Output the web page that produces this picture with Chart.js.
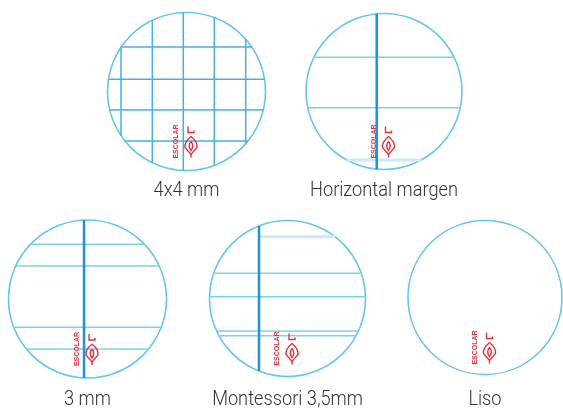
<!DOCTYPE html>
<html>
<head>
<meta charset="utf-8">
<script src="https://cdn.jsdelivr.net/npm/chart.js@4.4.0/dist/chart.umd.min.js"></script>
<style>
  html, body { margin: 0; padding: 0; background: #fff; }
  canvas { display: block; }
</style>
</head>
<body>
<canvas id="paperChart" width="563" height="408"></canvas>
<script>
// Ruling patterns (offsets in px from the circle centre)
const patternNames = ['4x4 mm', 'Horizontal margen', '3 mm', 'Montessori 3,5mm', 'Liso'];
const gridCols = [-65.5, -34.2, -3.2, 27.8, 59.2];   // only 4x4
const gridRows = [-44.5, -12.2, 18.5, 49.5];          // only 4x4
const marginLines = [null, -7.3, -3.5, -28.5, null];
const ruleLines = [[], [-34.2, 16.2], [-54.7, -33, 28.3, 50], [-25.2, -1.8, 32.5, 37.2], []];
const faintLines = [[], [68.5], [], [-61.8], []];

// where each circle sits on the page
const layout = [
  { cx: 186.5, cy: 91.5, r: 79, labelY: 196 },
  { cx: 384, cy: 91.5, r: 78, labelY: 196 },
  { cx: 87.5, cy: 299, r: 79, labelY: 405 },
  { cx: 287.5, cy: 298.5, r: 78, labelY: 405 },
  { cx: 485, cy: 297.5, r: 77, labelY: 405 }
];

const circleColor = '#66c5ee';
const gridColor = '#4aaee6';
const marginColor = '#1d93dc';
const ruleColor = '#80cfee';
const faintColor = '#cfeaf6';
const logoRed = '#e2323f';
const labelFont = '300 21px Roboto, "Open Sans", sans-serif';

// half width of the chord at offset d
function halfChord(r, d) {
  return Math.sqrt(Math.max(r * r - d * d, 0));
}

function lineDataset(points, color, width) {
  return {
    type: 'scatter',
    data: points,
    showLine: true,
    borderColor: color,
    borderWidth: width,
    pointRadius: 0,
    clip: false,
    order: 1
  };
}

const datasets = [];

layout.forEach((c, i) => {
  if (i === 0) {
    gridCols.forEach(dx => {
      const h = halfChord(c.r, dx);
      datasets.push(lineDataset([{ x: c.cx + dx, y: c.cy - h }, { x: c.cx + dx, y: c.cy + h }], gridColor, 1.5));
    });
    gridRows.forEach(dy => {
      const h = halfChord(c.r, dy);
      datasets.push(lineDataset([{ x: c.cx - h, y: c.cy + dy }, { x: c.cx + h, y: c.cy + dy }], gridColor, 1.5));
    });
  }
  ruleLines[i].forEach(dy => {
    const h = halfChord(c.r, dy);
    datasets.push(lineDataset([{ x: c.cx - h, y: c.cy + dy }, { x: c.cx + h, y: c.cy + dy }], ruleColor, 1.5));
  });
  faintLines[i].forEach(dy => {
    const h = halfChord(c.r, dy);
    // Montessori top band starts at the margin
    const startX = marginLines[i] !== null && dy < 0 ? c.cx + marginLines[i] : c.cx - h;
    datasets.push(lineDataset([{ x: startX, y: c.cy + dy }, { x: c.cx + h, y: c.cy + dy }], faintColor, 3));
  });
  if (marginLines[i] !== null) {
    const dx = marginLines[i];
    const h = halfChord(c.r, dx);
    const ds = lineDataset([{ x: c.cx + dx, y: c.cy - h }, { x: c.cx + dx, y: c.cy + h }], marginColor, 2.5);
    ds.order = 0;
    datasets.push(ds);
  }
});

// circle outlines
datasets.push({
  type: 'scatter',
  data: layout.map(c => ({ x: c.cx, y: c.cy })),
  pointRadius: layout.map(c => c.r),
  pointBorderColor: circleColor,
  pointBackgroundColor: 'rgba(0,0,0,0)',
  pointBorderWidth: 1.6,
  clip: false,
  order: 2
});

// small red logo and the captions
const paperDecor = {
  id: 'paperDecor',
  afterDatasetsDraw(chart) {
    const { ctx, scales: { x, y } } = chart;

    // squeeze the caption font so it looks condensed like the original
    ctx.save();
    ctx.font = labelFont;
    const squeeze = 148 / ctx.measureText('Horizontal margen').width;
    ctx.restore();

    layout.forEach((c, i) => {
      const px = x.getPixelForValue(c.cx);
      const py = y.getPixelForValue(c.cy);

      ctx.save();
      ctx.fillStyle = logoRed;
      ctx.strokeStyle = logoRed;
      ctx.lineWidth = 1.4;

      // vertical brand text
      ctx.save();
      ctx.translate(px - 10, py + 50);
      ctx.rotate(-Math.PI / 2);
      ctx.font = 'bold 7px "Liberation Sans", sans-serif';
      ctx.textAlign = 'center';
      ctx.textBaseline = 'middle';
      ctx.fillText('ESCOLAR', 0, 0);
      ctx.restore();

      // hook
      const lx = px + 4.5;
      ctx.beginPath();
      ctx.moveTo(lx - 3, py + 35);
      ctx.lineTo(lx - 3, py + 41);
      ctx.lineTo(lx + 3, py + 41);
      ctx.lineTo(lx + 3, py + 39);
      ctx.stroke();

      // leaf
      ctx.beginPath();
      ctx.moveTo(lx, py + 45);
      ctx.quadraticCurveTo(lx + 7, py + 51, lx + 6, py + 56);
      ctx.lineTo(lx, py + 63);
      ctx.lineTo(lx - 6, py + 56);
      ctx.quadraticCurveTo(lx - 7, py + 51, lx, py + 45);
      ctx.stroke();
      ctx.beginPath();
      ctx.moveTo(lx, py + 50);
      ctx.quadraticCurveTo(lx + 3.5, py + 54, lx, py + 59);
      ctx.quadraticCurveTo(lx - 3.5, py + 54, lx, py + 50);
      ctx.stroke();
      ctx.beginPath();
      ctx.moveTo(lx, py + 63);
      ctx.lineTo(lx, py + 66);
      ctx.stroke();
      ctx.restore();

      // caption
      ctx.save();
      ctx.fillStyle = '#333333';
      ctx.font = labelFont;
      ctx.textAlign = 'center';
      ctx.textBaseline = 'alphabetic';
      ctx.translate(px, y.getPixelForValue(c.labelY));
      ctx.scale(squeeze, 1);
      ctx.fillText(patternNames[i], 0, 0);
      ctx.restore();
    });
  }
};

new Chart(document.getElementById('paperChart'), {
  type: 'scatter',
  data: { datasets: datasets },
  options: {
    responsive: false,
    animation: false,
    events: [],
    layout: { padding: 0, autoPadding: false },
    scales: {
      x: { type: 'linear', min: 0, max: 563, display: false },
      y: { type: 'linear', min: 0, max: 408, reverse: true, display: false }
    },
    plugins: {
      legend: { display: false },
      tooltip: { enabled: false }
    }
  },
  plugins: [paperDecor]
});
</script>
</body>
</html>
